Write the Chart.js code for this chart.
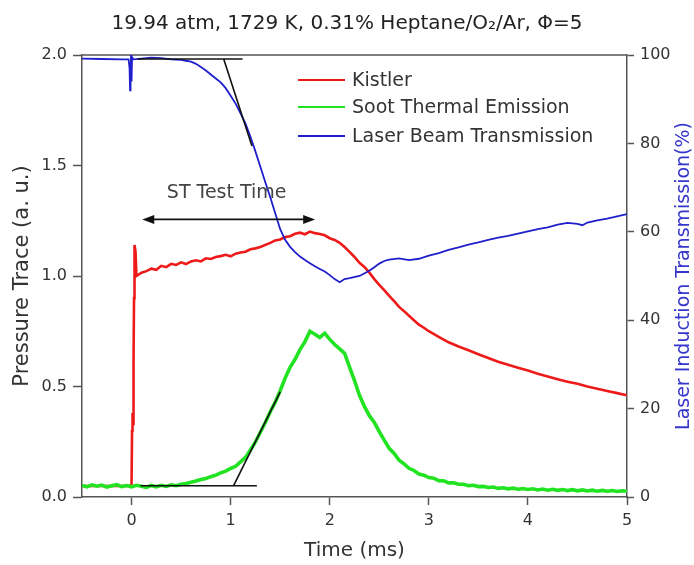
<!DOCTYPE html>
<html><head><meta charset="utf-8">
<script src="https://cdn.jsdelivr.net/npm/chart.js@4.4.0/dist/chart.umd.min.js"></script>
<style>html,body{margin:0;padding:0;background:#fff}canvas{display:block}</style>
</head><body>
<canvas id="c" width="694" height="565"></canvas>
<script>
// ---- tick labels ----
const xTicks = [0, 1, 2, 3, 4, 5];
const leftTicks = [0, 0.5, 1, 1.5, 2];
const rightTicks = [0, 20, 40, 60, 80, 100];

// ---- Soot Thermal Emission (left axis) ----
const sootTime = [
 -0.50,-0.45,-0.40,-0.35,-0.30,-0.25,-0.20,-0.15,-0.10,-0.05,
  0.00, 0.05, 0.10, 0.15, 0.20, 0.25, 0.30, 0.35, 0.40, 0.45,
  0.50, 0.55, 0.60, 0.65, 0.70, 0.75, 0.80, 0.85, 0.90, 0.95,
  1.00, 1.05, 1.10, 1.15, 1.20, 1.25, 1.30, 1.35, 1.40, 1.45,
  1.50, 1.55, 1.60, 1.65, 1.70, 1.75, 1.80, 1.85, 1.90, 1.95,
  2.00, 2.05, 2.10, 2.15, 2.20, 2.25, 2.30, 2.35, 2.40, 2.45,
  2.50, 2.55, 2.60, 2.65, 2.70, 2.75, 2.80, 2.85, 2.90, 2.95,
  3.00, 3.05, 3.10, 3.15, 3.20, 3.25, 3.30, 3.35, 3.40, 3.45,
  3.50, 3.55, 3.60, 3.65, 3.70, 3.75, 3.80, 3.85, 3.90, 3.95,
  4.00, 4.05, 4.10, 4.15, 4.20, 4.25, 4.30, 4.35, 4.40, 4.45,
  4.50, 4.55, 4.60, 4.65, 4.70, 4.75, 4.80, 4.85, 4.90, 4.95, 5.00
];
const sootValues = [
 0.052,0.046,0.055,0.049,0.054,0.045,0.051,0.056,0.047,0.052,
 0.046,0.053,0.049,0.044,0.052,0.046,0.053,0.048,0.055,0.051,
 0.058,0.061,0.067,0.072,0.079,0.084,0.092,0.099,0.109,0.117,
 0.129,0.139,0.159,0.179,0.213,0.249,0.293,0.337,0.386,0.429,
 0.481,0.538,0.587,0.623,0.667,0.703,0.750,0.736,0.722,0.741,
 0.713,0.690,0.670,0.650,0.588,0.527,0.460,0.410,0.368,0.337,
 0.296,0.257,0.220,0.197,0.166,0.150,0.130,0.120,0.104,0.099,
 0.088,0.085,0.074,0.073,0.064,0.064,0.058,0.058,0.051,0.053,
 0.047,0.048,0.043,0.045,0.039,0.042,0.037,0.040,0.035,0.038,
 0.034,0.037,0.032,0.036,0.031,0.035,0.030,0.034,0.029,0.033,
 0.028,0.032,0.027,0.031,0.026,0.030,0.026,0.029,0.025,0.028,0.026
];

// ---- Kistler pressure trace (left axis) ----
const kistlerTime = [
 -0.50,-0.01,0.000,0.005,0.010,0.015,0.020,0.025,0.030,0.040,0.050,
  0.10, 0.15, 0.20, 0.25, 0.30, 0.35, 0.40, 0.45, 0.50, 0.55,
  0.60, 0.65, 0.70, 0.75, 0.80, 0.85, 0.90, 0.95, 1.00, 1.05,
  1.10, 1.15, 1.20, 1.25, 1.30, 1.35, 1.40, 1.45, 1.50, 1.55,
  1.60, 1.65, 1.70, 1.75, 1.80, 1.85, 1.90, 1.95, 2.00, 2.05,
  2.10, 2.15, 2.20, 2.25, 2.30, 2.35, 2.40, 2.45, 2.50, 2.55,
  2.60, 2.65, 2.70, 2.75, 2.80, 2.85, 2.90, 2.95, 3.00, 3.10,
  3.20, 3.30, 3.40, 3.50, 3.60, 3.70, 3.80, 3.90, 4.00, 4.10,
  4.20, 4.30, 4.40, 4.50, 4.60, 4.70, 4.80, 4.90, 5.00
];
const kistlerValues = [
 0.050,0.050,0.060,0.300,0.380,0.330,0.600,0.900,1.140,1.110,1.000,
 1.015,1.022,1.033,1.028,1.046,1.040,1.055,1.050,1.062,1.054,
 1.066,1.071,1.066,1.080,1.077,1.086,1.090,1.096,1.089,1.101,
 1.106,1.110,1.121,1.125,1.131,1.141,1.150,1.161,1.165,1.176,
 1.180,1.191,1.196,1.189,1.201,1.194,1.190,1.184,1.171,1.163,
 1.150,1.131,1.109,1.086,1.060,1.041,1.015,0.986,0.960,0.936,
 0.910,0.886,0.860,0.841,0.820,0.800,0.780,0.766,0.750,0.725,
 0.700,0.681,0.664,0.646,0.629,0.612,0.598,0.585,0.572,0.558,
 0.545,0.533,0.522,0.512,0.500,0.490,0.480,0.470,0.460
];

// ---- Laser Beam Transmission (right axis, %) ----
const laserTime = [
 -0.50,-0.30,-0.10,-0.03,-0.02,-0.015,-0.01,-0.005,0.000,0.005,0.02,
  0.10, 0.20, 0.30, 0.40, 0.50, 0.55, 0.60, 0.65, 0.70, 0.75,
  0.80, 0.85, 0.90, 0.95, 1.00, 1.05, 1.10, 1.15, 1.20, 1.25,
  1.30, 1.35, 1.40, 1.45, 1.50, 1.55, 1.60, 1.65, 1.70, 1.75,
  1.80, 1.85, 1.90, 1.95, 2.00, 2.05, 2.10, 2.15, 2.20, 2.30,
  2.40, 2.45, 2.50, 2.55, 2.60, 2.70, 2.80, 2.90, 3.00, 3.10,
  3.20, 3.30, 3.40, 3.50, 3.60, 3.70, 3.80, 3.90, 4.00, 4.10,
  4.20, 4.30, 4.40, 4.50, 4.55, 4.60, 4.70, 4.80, 4.90, 5.00
];
const laserValues = [
 99.2,99.1,99.0,99.0,97.0,92.0,95.5,100.2,94.0,99.5,99.0,
 99.2,99.4,99.3,99.0,98.9,98.7,98.5,98.0,97.3,96.5,
 95.6,94.7,93.8,92.5,90.8,89.0,86.8,84.5,81.5,78.2,
 74.7,71.2,67.8,64.2,60.6,58.2,56.6,55.4,54.4,53.6,
 52.9,52.2,51.6,51.0,50.2,49.3,48.6,49.3,49.5,50.0,
 51.2,52.0,52.8,53.4,53.7,54.0,53.6,53.9,54.6,55.2,
 55.9,56.5,57.1,57.6,58.2,58.7,59.1,59.6,60.1,60.6,
 61.0,61.6,62.0,61.8,61.5,62.1,62.6,63.0,63.5,64.0
];

// ---- tangent construction lines ----
const tangentTopTime = [0.06, 1.12];
const tangentTopValues = [99.1, 99.1];     // right axis
const tangentDropTime = [0.93, 1.215];
const tangentDropValues = [99.1, 79.4];    // right axis
const sootBaseTime = [0.09, 1.265];
const sootBaseValues = [0.051, 0.051];     // left axis
const sootRiseTime = [1.03, 1.50];
const sootRiseValues = [0.051, 0.476];     // left axis

// ---- test-time arrow ----
const arrowTime = [0.108, 1.853];
const arrowLevel = 1.256;
const arrowLabel = 'ST Test Time';
const arrowLabelAt = [0.96, 1.374];

const chartTitle = '19.94 atm, 1729 K, 0.31% Heptane/O\u2082/Ar, \u03A6=5';
const xTitle = 'Time (ms)';
const leftTitle = 'Pressure Trace (a. u.)';
const rightTitle = 'Laser Induction Transmission(%)';

const pts = (xs, ys) => xs.map((x, i) => ({x: x, y: ys[i]}));

Chart.defaults.font.family = '"DejaVu Sans", "Liberation Sans", sans-serif';
Chart.defaults.color = '#333';

const AXIS = '#555';
const extras = {
  id: 'extras',
  beforeDatasetsDraw(chart) {
    const {ctx, chartArea: a} = chart;
    ctx.save();
    ctx.strokeStyle = AXIS; ctx.lineWidth = 1.5;
    ctx.beginPath(); ctx.moveTo(a.left, a.top); ctx.lineTo(a.right, a.top); ctx.stroke();
    ctx.restore();
  },
  afterDatasetsDraw(chart) {
    const {ctx, chartArea: a, scales} = chart;
    const xs = scales.x, ys = scales.y;
    ctx.save();
    const x0 = xs.getPixelForValue(arrowTime[0]), x1 = xs.getPixelForValue(arrowTime[1]);
    const y = ys.getPixelForValue(arrowLevel);
    ctx.strokeStyle = '#111'; ctx.fillStyle = '#111'; ctx.lineWidth = 1.8;
    ctx.beginPath(); ctx.moveTo(x0 + 6, y); ctx.lineTo(x1 - 6, y); ctx.stroke();
    ctx.beginPath(); ctx.moveTo(x0, y); ctx.lineTo(x0 + 12, y - 4.5); ctx.lineTo(x0 + 12, y + 4.5); ctx.closePath(); ctx.fill();
    ctx.beginPath(); ctx.moveTo(x1, y); ctx.lineTo(x1 - 12, y - 4.5); ctx.lineTo(x1 - 12, y + 4.5); ctx.closePath(); ctx.fill();
    ctx.font = '19px "DejaVu Sans"'; ctx.fillStyle = '#444';
    ctx.textAlign = 'center'; ctx.textBaseline = 'middle';
    ctx.fillText(arrowLabel, xs.getPixelForValue(arrowLabelAt[0]), ys.getPixelForValue(arrowLabelAt[1]));
    const rows = [25, 52, 81];
    ctx.textAlign = 'left';
    ctx.font = '19px "DejaVu Sans"';
    chart.data.datasets.slice(0, 3).forEach((ds, i) => {
      const ly = a.top + rows[i];
      ctx.strokeStyle = ds.borderColor; ctx.lineWidth = 2;
      ctx.beginPath(); ctx.moveTo(a.left + 216, ly); ctx.lineTo(a.left + 263, ly); ctx.stroke();
      ctx.fillStyle = '#333';
      ctx.fillText(ds.label, a.left + 270, ly + 1);
    });
    ctx.restore();
  },
  afterDraw(chart) {
    const {ctx, chartArea: a} = chart;
    ctx.save();
    ctx.translate(684, (a.top + a.bottom) / 2);
    ctx.rotate(-Math.PI / 2);
    ctx.font = '19px "DejaVu Sans"'; ctx.fillStyle = '#3636cc';
    ctx.textAlign = 'center'; ctx.textBaseline = 'middle';
    ctx.fillText(rightTitle, 0, 0);
    ctx.restore();
  }
};

const tickGrid = (len) => ({display: true, drawOnChartArea: false, drawTicks: true, tickLength: len, tickColor: AXIS, tickWidth: 1.5});
const border = {display: true, color: AXIS, width: 1.5};

new Chart(document.getElementById('c'), {
  type: 'line',
  data: {
    datasets: [
      {label: 'Kistler', data: pts(kistlerTime, kistlerValues), borderColor: '#ee1a1a', borderWidth: 2.6, yAxisID: 'y', order: 3},
      {label: 'Soot Thermal Emission', data: pts(sootTime, sootValues), borderColor: '#22e322', borderWidth: 3.6, yAxisID: 'y', order: 2},
      {label: 'Laser Beam Transmission', data: pts(laserTime, laserValues), borderColor: '#1f1fcc', borderWidth: 1.8, yAxisID: 'y1', order: 1},
      {label: 'tangent1', data: pts(tangentTopTime, tangentTopValues), borderColor: '#111', borderWidth: 1.6, yAxisID: 'y1', order: 0},
      {label: 'tangent2', data: pts(tangentDropTime, tangentDropValues), borderColor: '#111', borderWidth: 1.6, yAxisID: 'y1', order: 0},
      {label: 'tangent3', data: pts(sootBaseTime, sootBaseValues), borderColor: '#111', borderWidth: 1.6, yAxisID: 'y', order: 0},
      {label: 'tangent4', data: pts(sootRiseTime, sootRiseValues), borderColor: '#111', borderWidth: 1.6, yAxisID: 'y', order: 0}
    ]
  },
  options: {
    responsive: false, animation: false, devicePixelRatio: 1,
    layout: {padding: 0},
    elements: {point: {radius: 0}, line: {tension: 0, fill: false}},
    plugins: {
      legend: {display: false}, tooltip: {enabled: false},
      title: {display: true, text: chartTitle, color: '#222', font: {size: 20, weight: 'normal'}, padding: {top: 12, bottom: 19}}
    },
    scales: {
      x: {
        type: 'linear', min: -0.5, max: 5,
        afterBuildTicks: s => { s.ticks = xTicks.map(v => ({value: v})); },
        afterFit: s => { s.height = 68; },
        grid: tickGrid(8), border: border,
        ticks: {color: '#333', font: {size: 16}, padding: 6, maxRotation: 0, callback: v => String(v)},
        title: {display: true, text: xTitle, color: '#333', font: {size: 20}, padding: {top: 0, bottom: 2}}
      },
      y: {
        type: 'linear', position: 'left', min: 0, max: 2,
        afterBuildTicks: s => { s.ticks = leftTicks.map(v => ({value: v})); },
        afterFit: s => { s.width = 82; },
        grid: tickGrid(9), border: border,
        ticks: {color: '#333', font: {size: 16}, padding: 6, callback: v => Number(v).toFixed(1)},
        title: {display: true, text: leftTitle, color: '#333', font: {size: 21}, padding: {top: 10, bottom: 0}}
      },
      y1: {
        type: 'linear', position: 'right', min: 0, max: 100,
        afterBuildTicks: s => { s.ticks = rightTicks.map(v => ({value: v})); },
        afterFit: s => { s.width = 67; },
        grid: tickGrid(7), border: border,
        ticks: {color: '#333', font: {size: 16}, padding: 6, callback: v => String(v)}
      }
    }
  },
  plugins: [extras]
});
</script>
</body></html>
